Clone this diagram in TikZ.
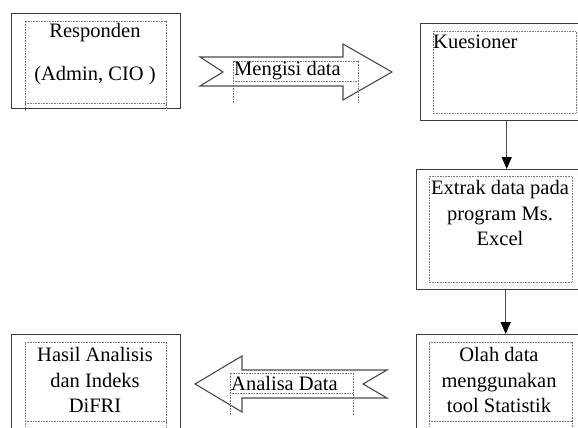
\documentclass[tikz,border=0pt]{standalone}
\usepackage{fontspec}
\setmainfont{Liberation Serif}
\usetikzlibrary{arrows.meta}
\definecolor{boxline}{HTML}{3A3A3A}
\definecolor{arrline}{HTML}{4A4A4A}
\definecolor{dotline}{HTML}{7A7A7A}
\tikzset{
  outerbox/.style={draw=boxline, line width=1.4pt, anchor=north west, inner sep=0pt, fill=none},
  dotbox/.style={draw=dotline, line width=0.8pt, dash pattern=on 0.8pt off 0.8pt},
  blockarrow/.style={draw=arrline, line width=1.1pt, line join=miter, fill=white},
  flowarrow/.style={draw=arrline, line width=1.2pt, -{Triangle[width=10pt,length=12pt,color=black]}},
  txt/.style={font=\fontsize{20.5}{25.5}\selectfont, inner sep=0pt, text=black},
}
\begin{document}
\begin{tikzpicture}[x=1pt,y=-1pt]
\useasboundingbox (0,0) rectangle (578,428);
\clip (0,0) rectangle (578,428);
\fill[white] (0,0) rectangle (578,428);

% outer boxes
\node[outerbox, minimum width=169, minimum height=95] (resp) at (11,13) {};
\node[outerbox, minimum width=170, minimum height=97] (kues) at (420,23) {};
\node[outerbox, minimum width=174, minimum height=120] (extrak) at (416,169) {};
\node[outerbox, minimum width=174, minimum height=110] (olah) at (416,334) {};
\node[outerbox, minimum width=169, minimum height=110] (hasil) at (11,334) {};

% inner dotted frames
\draw[dotbox] (25,111) -- (25,21) -- (166,21) -- (166,111);
\draw[dotbox] (25,103) -- (166,103);
\draw[dotbox] (433,31) rectangle (576,113);
\draw[dotbox] (429,176) rectangle (572,282);
\draw[dotbox] (429,430) -- (429,342) -- (572,342) -- (572,430);
\draw[dotbox] (429,421) -- (572,421);
\draw[dotbox] (25,430) -- (25,342) -- (166,342) -- (166,430);
\draw[dotbox] (25,421) -- (166,421);

% block arrows
\draw[blockarrow] (200,57) -- (343,57) -- (343,44) -- (392,72) -- (343,100) -- (343,86) -- (200,86) -- (223,72) -- cycle;
\draw[blockarrow] (195,384) -- (242,356) -- (242,370) -- (387,370) -- (363,384) -- (387,398) -- (242,398) -- (242,412) -- cycle;
\draw[dotbox] (233,103) -- (233,61) -- (358,61) -- (358,103);
\draw[dotbox] (233,81) -- (358,81);
\draw[dotbox] (230,415) -- (230,373) -- (353,373) -- (353,415);
\draw[dotbox] (230,393) -- (353,393);

% texts
\node[txt] (tresp) at (95,33) {Responden};
\node[txt] (tadm) at (95,76) {(Admin, CIO )};
\node[txt, anchor=west] (tkues) at (433,42) {Kuesioner};
\node[txt, align=center] (textrak) at (500,213) {Extrak data pada\\program Ms.\\Excel};
\node[txt, align=center] (tolah) at (499,380) {Olah data\\menggunakan\\tool Statistik};
\node[txt, align=center] (thasil) at (95,380) {Hasil Analisis\\dan Indeks\\DiFRI};
\node[txt, anchor=west] (tmeng) at (234,71) {Mengisi data};
\node[txt, anchor=west] (tanal) at (231,383) {Analisa Data};

% flow arrows
\draw[flowarrow] ([xshift=1pt]kues.south) -- ([xshift=3pt]extrak.north);
\draw[flowarrow] ([xshift=2pt]extrak.south) -- ([xshift=2pt]olah.north);
\end{tikzpicture}
\end{document}
